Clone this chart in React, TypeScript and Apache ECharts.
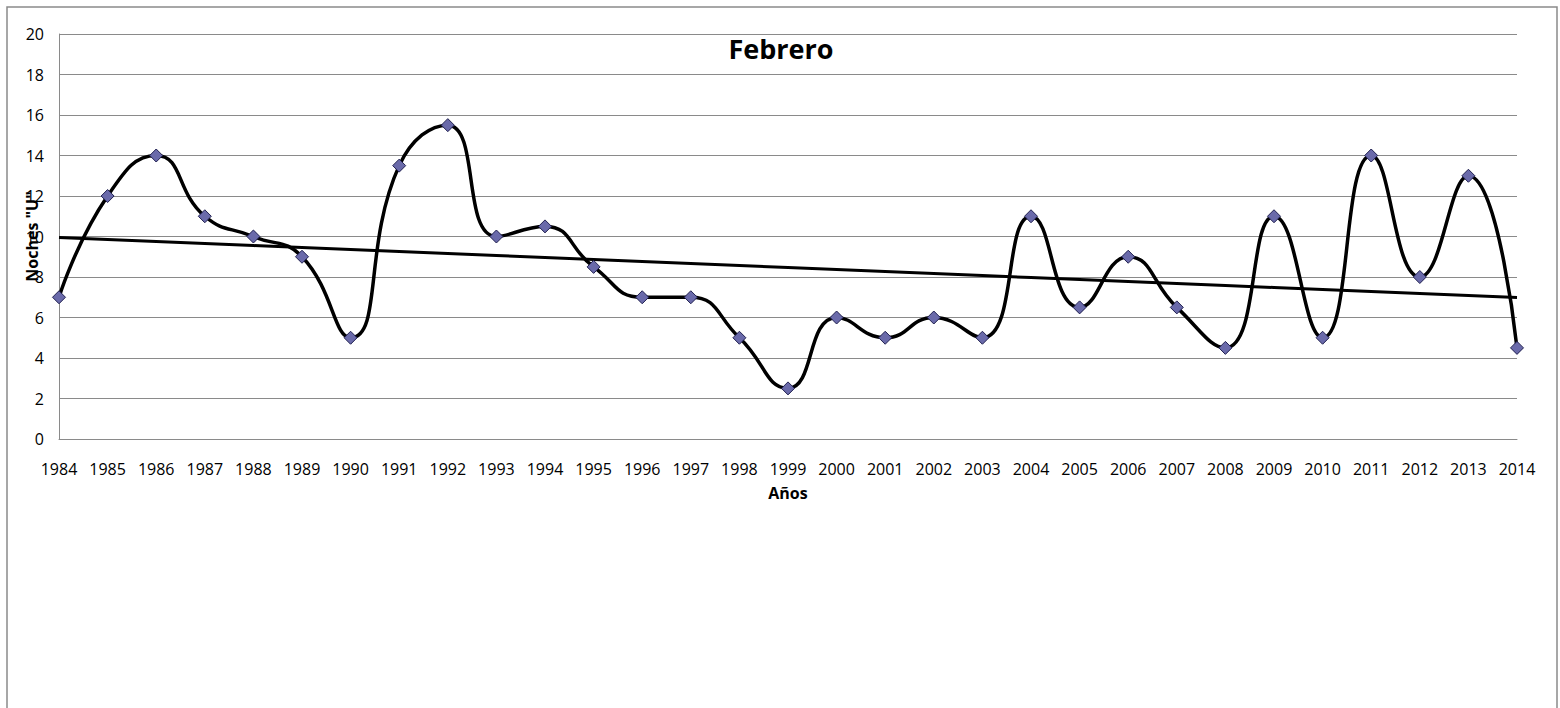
import React, { useEffect, useRef } from "react";
import * as echarts from "echarts";

const years = ["1984","1985","1986","1987","1988","1989","1990","1991","1992","1993","1994","1995","1996","1997","1998","1999","2000","2001","2002","2003","2004","2005","2006","2007","2008","2009","2010","2011","2012","2013","2014"];
const nights = [7,12,14,11,10,9,5,13.5,15.5,10,10.5,8.5,7,7,5,2.5,6,5,6,5,11,6.5,9,6.5,4.5,11,5,14,8,13,4.5];
const yTicks = { min: 0, max: 20, interval: 2 };

function linearTrend(vals: number[]) {
  const n = vals.length;
  let sx = 0, sy = 0, sxx = 0, sxy = 0;
  vals.forEach((v, i) => { sx += i; sy += v; sxx += i * i; sxy += i * v; });
  const b = (n * sxy - sx * sy) / (n * sxx - sx * sx);
  const a = (sy - b * sx) / n;
  return { a, b };
}

export default function App() {
  const ref = useRef<HTMLDivElement>(null);
  useEffect(() => {
    if (!ref.current) return;
    const chart = echarts.init(ref.current, null, { renderer: "svg" });
    const { a, b } = linearTrend(nights);
    const font = "'Open Sans', 'Noto Sans', sans-serif";
    chart.setOption({
      animation: false,
      title: {
        text: "Febrero",
        left: 776,
        textAlign: "center",
        top: 30,
        textStyle: { fontFamily: font, fontSize: 27, fontWeight: "bold", color: "#000" },
      },
      graphic: [
        {
          type: "rect",
          shape: { x: 7, y: 7, width: 1550, height: 760 },
          style: { fill: "none", stroke: "#8a8a8a", lineWidth: 1.5 },
          silent: true,
        },
      ],
      grid: { left: 59, right: 43, top: 34, bottom: 269 },
      xAxis: {
        type: "category",
        data: years,
        boundaryGap: false,
        name: "Años",
        nameLocation: "middle",
        nameGap: 46,
        nameMoveOverlap: false,
        nameTextStyle: { fontFamily: font, fontSize: 16, fontWeight: "bold", color: "#000" },
        axisLine: { lineStyle: { color: "#8a8a8a", width: 1 } },
        axisTick: { show: false },
        axisLabel: { fontFamily: font, fontSize: 16, color: "#000", margin: 22, interval: 0 },
        splitLine: { show: false },
      },
      yAxis: {
        type: "value",
        min: yTicks.min,
        max: yTicks.max,
        interval: yTicks.interval,
        name: 'Noches "U"',
        nameLocation: "middle",
        nameGap: 19,
        nameMoveOverlap: false,
        nameTextStyle: { fontFamily: font, fontSize: 16, fontWeight: "bold", color: "#000" },
        axisLine: { show: true, lineStyle: { color: "#8a8a8a", width: 1 } },
        axisTick: { show: false },
        axisLabel: { fontFamily: font, fontSize: 16, color: "#000", margin: 15 },
        splitLine: { show: true, lineStyle: { color: "#8a8a8a", width: 1 } },
      },
      series: [
        {
          type: "line",
          data: nights,
          smooth: 0.5,
          symbol: "diamond",
          symbolSize: 13,
          lineStyle: { color: "#000", width: 3.5 },
          itemStyle: { color: "#6a6aaa", borderColor: "#202050", borderWidth: 1 },
          z: 3,
        },
        {
          type: "line",
          data: nights.map((_, i) => +(a + b * i).toFixed(4)),
          symbol: "none",
          smooth: false,
          lineStyle: { color: "#000", width: 3 },
          z: 2,
        },
      ],
    });
    return () => chart.dispose();
  }, []);
  return (
    <div
      ref={ref}
      style={{ position: "absolute", left: 0, top: 0, width: 1560, height: 708, background: "#fff" }}
    />
  );
}
